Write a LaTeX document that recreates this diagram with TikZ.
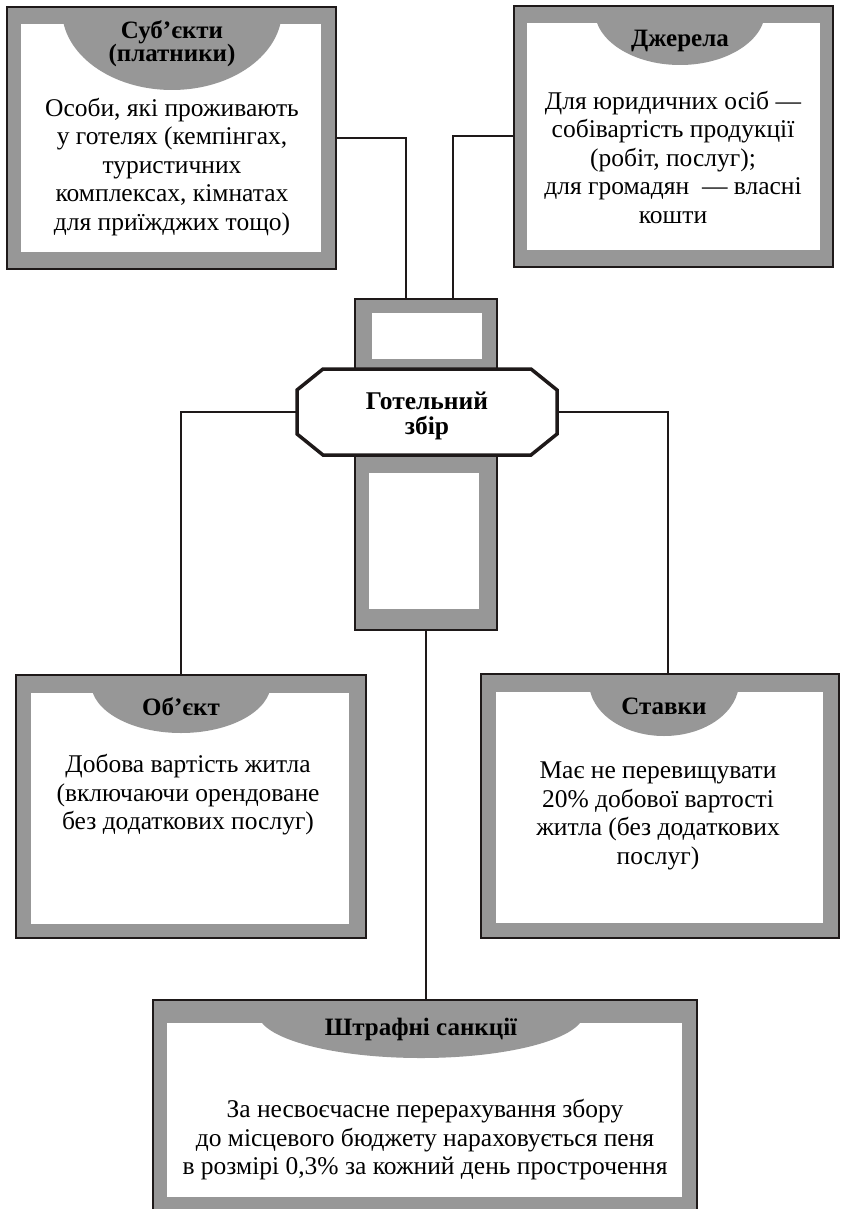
\documentclass[tikz,border=0pt]{standalone}
\usepackage{fontspec}
\setmainfont{Liberation Serif}
\usetikzlibrary{calc}
\definecolor{framegray}{RGB}{151,151,151}
\definecolor{ink}{RGB}{30,25,25}
\begin{document}
\begin{tikzpicture}[x=1pt,y=-1pt,
 frame/.style={draw=ink, line width=1.4pt, fill=framegray, inner sep=0pt, outer sep=0pt},
 innerbox/.style={fill=white, inner sep=0pt, outer sep=0pt},
 hdr/.style={fill=framegray},
 ttl/.style={font=\fontsize{25}{23}\selectfont\bfseries, align=center, inner sep=0pt},
 body/.style={font=\fontsize{25.5}{28.5}\selectfont, align=center, inner sep=0pt},
 conn/.style={draw=ink, line width=2pt},
 ]
\useasboundingbox (0,0) rectangle (845,1209);
\fill[white] (0,0) rectangle (845,1209);

% Box A
\node[frame, minimum width=329pt, minimum height=262pt] (subj) at (171.5,138) {};
\node[innerbox, minimum width=300pt, minimum height=228pt] (subjin) at (171,138) {};
\begin{scope}
\clip (subjin.south west) rectangle (subjin.north east);
\fill[hdr] (172,10) ellipse [x radius=110pt, y radius=80pt];
\end{scope}
\node[ttl] (subjt) at (172,44) {Суб’єкти\\(платники)};
\node[body] (subjb) at (172,167) {Особи, які проживають\\у готелях (кемпінгах,\\туристичних\\комплексах, кімнатах\\для приїжджих тощо)};

% Box B
\node[frame, minimum width=319pt, minimum height=261pt] (dzh) at (673.5,136.5) {};
\node[innerbox, minimum width=293pt, minimum height=227pt] (dzhin) at (673.5,136.5) {};
\begin{scope}
\clip (dzhin.south west) rectangle (dzhin.north east);
\fill[hdr] (680,10) ellipse [x radius=85.4pt, y radius=55pt];
\end{scope}
\node[ttl] (dzht) at (680,41) {Джерела};
\node[body] (dzhb) at (673,157) {Для юридичних осіб —\\собівартість продукції\\(робіт, послуг);\\для громадян\ \ — власні\\кошти};

% Centre
\node[frame, minimum width=142pt, minimum height=74pt] (cup) at (426,336) {};
\node[innerbox, minimum width=110pt, minimum height=46pt] (cupin) at (427,336) {};
\node[frame, minimum width=142pt, minimum height=180pt] (cdown) at (426,540) {};
\node[innerbox, minimum width=110pt, minimum height=136pt] (cdownin) at (424,541) {};
\filldraw[fill=white, draw=ink, line width=3.5pt, line join=miter]
 (323,369) -- (531,369) -- (557,390) -- (557,434) -- (531,455) -- (323,455) -- (297,434) -- (297,390) -- cycle;
\node[inner sep=0pt, outer sep=0pt, minimum width=260pt, minimum height=86pt, align=center,
 font=\fontsize{25.5}{25}\selectfont\bfseries] (got) at (427,412) {};
\node[inner sep=0pt, align=center, font=\fontsize{25.5}{25}\selectfont\bfseries] (gott) at (427,416) {Готельний\\збір};

% Box C
\node[frame, minimum width=350pt, minimum height=263pt] (obj) at (191,806.5) {};
\node[innerbox, minimum width=318pt, minimum height=231pt] (objin) at (190,808.5) {};
\begin{scope}
\clip (objin.south west) rectangle (objin.north east);
\fill[hdr] (181,683) ellipse [x radius=90pt, y radius=50pt];
\end{scope}
\node[ttl] (objt) at (181,707) {Об’єкт};
\node[body] (objb) at (188,795) {Добова вартість житла\\(включаючи орендоване\\без додаткових послуг)};

% Box D
\node[frame, minimum width=358pt, minimum height=264pt] (stav) at (660,806) {};
\node[innerbox, minimum width=327pt, minimum height=231pt] (stavin) at (659.5,807.5) {};
\begin{scope}
\clip (stavin.south west) rectangle (stavin.north east);
\fill[hdr] (664,682) ellipse [x radius=75pt, y radius=54pt];
\end{scope}
\node[ttl] (stavt) at (664,706) {Ставки};
\node[body] (stavb) at (658,816) {Має не перевищувати\\20\% добової вартості\\житла (без додаткових\\послуг)};

% Box E
\node[frame, minimum width=544pt, minimum height=230pt] (fine) at (425,1115) {};
\node[innerbox, minimum width=515pt, minimum height=174pt] (finein) at (424.5,1110) {};
\begin{scope}
\clip (finein.south west) rectangle (finein.north east);
\fill[hdr] (421,1013) ellipse [x radius=163pt, y radius=45pt];
\end{scope}
\node[ttl] (finet) at (421,1029) {Штрафні санкції};
\node[body] (fineb) at (425,1140) {За несвоєчасне перерахування збору\\до місцевого бюджету нараховується пеня\\в розмірі 0,3\% за кожний день прострочення};

% Connectors
\draw[conn] (subj.east) -| ([xshift=-20pt]cup.north);
\draw[conn] (dzh.west) -| ([xshift=27pt]cup.north);
\draw[conn] (got.west) -| ([xshift=-10pt]obj.north);
\draw[conn] (got.east) -| ([xshift=8pt]stav.north);
\draw[conn] (cdown.south) -- (cdown.south |- fine.north);
\end{tikzpicture}
\end{document}
